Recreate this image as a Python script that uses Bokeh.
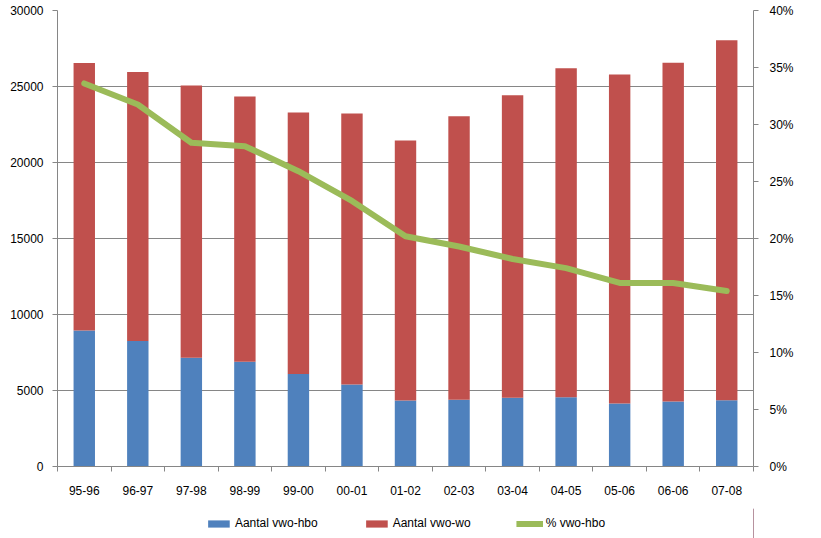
from bokeh.plotting import figure
from bokeh.layouts import column
from bokeh.models import (ColumnDataSource, Range1d, LinearAxis, FixedTicker, Grid,
                          SingleIntervalTicker, NumeralTickFormatter, Legend, LegendItem)
from bokeh.embed import file_html
from bokeh.resources import INLINE

categories = ["95-96", "96-97", "97-98", "98-99", "99-00", "00-01", "01-02",
              "02-03", "03-04", "04-05", "05-06", "06-06", "07-08"]
vwo_hbo = [8950, 8250, 7150, 6890, 6080, 5400, 4340, 4390, 4520, 4560, 4150, 4280, 4360]
vwo_wo = [17600, 17700, 17910, 17450, 17210, 17820, 17110, 18660, 19910, 21640, 21640, 22280, 23690]
pct_vwo_hbo = [0.336, 0.3175, 0.284, 0.281, 0.259, 0.233, 0.202, 0.193, 0.182, 0.174, 0.161, 0.161, 0.154]
series_names = ["Aantal vwo-hbo", "Aantal vwo-wo", "% vwo-hbo"]

FONT = "Liberation Sans"
GRID = "#868686"
BLUE = "#4F81BD"
RED = "#C0504D"
GREEN = "#9BBB59"

xs = list(range(len(categories)))
src = ColumnDataSource(dict(x=xs, hbo=vwo_hbo, wo=vwo_wo, pct=pct_vwo_hbo))

p = figure(width=821, height=500, output_backend="svg", toolbar_location=None,
           x_range=Range1d(-0.5, len(categories) - 0.5), y_range=Range1d(0, 30000),
           min_border_left=57, min_border_right=68, min_border_top=10, min_border_bottom=34,
           y_axis_location=None, x_axis_location=None)
p.outline_line_color = None
p.background_fill_color = "white"
p.border_fill_color = "white"
p.xgrid.grid_line_color = None
p.ygrid.grid_line_color = None

bars = p.vbar_stack(["hbo", "wo"], x="x", width=0.4, source=src, color=[BLUE, RED],
                    line_color=None)

p.extra_y_ranges = {"pct": Range1d(0, 0.4)}
line = p.line("x", "pct", source=src, y_range_name="pct", line_color=GREEN, line_width=6,
              line_join="round", line_cap="round")

ly = LinearAxis(ticker=SingleIntervalTicker(interval=5000),
                formatter=NumeralTickFormatter(format="0"))
ry = LinearAxis(y_range_name="pct", ticker=SingleIntervalTicker(interval=0.05),
                formatter=NumeralTickFormatter(format="0%"))
for ax in (ly, ry):
    ax.axis_line_color = GRID
    ax.major_tick_line_color = GRID
    ax.major_tick_out = 5
    ax.major_tick_in = 0
    ax.minor_tick_line_color = None
    ax.major_label_text_font = FONT
    ax.major_label_text_font_size = "12px"
    ax.major_label_text_color = "black"
ly.major_label_standoff = 9
ry.major_label_standoff = 11
p.add_layout(ly, "left")
p.add_layout(ry, "right")

xa = LinearAxis(ticker=FixedTicker(ticks=xs, minor_ticks=[i - 0.5 for i in range(len(categories) + 1)]),
                major_label_overrides={i: c for i, c in enumerate(categories)})
xa.axis_line_color = GRID
xa.major_tick_line_color = None
xa.major_tick_out = 0
xa.minor_tick_line_color = GRID
xa.minor_tick_out = 5
xa.minor_tick_in = 0
xa.major_label_standoff = 14
xa.major_label_text_font = FONT
xa.major_label_text_font_size = "12px"
xa.major_label_text_color = "black"
p.add_layout(xa, "below")

g = Grid(dimension=1, ticker=ly.ticker, grid_line_color=GRID, grid_line_width=1)
p.add_layout(g)

# legend strip below the chart (legend swatches only; sample glyphs lie outside the view)
lp = figure(width=821, height=38, output_backend="svg", toolbar_location=None,
            x_range=Range1d(0, 1), y_range=Range1d(0, 1),
            min_border_left=30, min_border_right=0, min_border_top=8, min_border_bottom=0,
            x_axis_location=None, y_axis_location=None)
lp.outline_line_color = None
lp.xgrid.grid_line_color = None
lp.ygrid.grid_line_color = None
lp.background_fill_color = "white"
lp.border_fill_color = "white"
swatch = ColumnDataSource(dict(x=[10, 11], top=[10, 10]))
r_hbo = lp.vbar(x="x", top="top", width=0.4, source=swatch, color=BLUE, line_color=None)
r_wo = lp.vbar(x="x", top="top", width=0.4, source=swatch, color=RED, line_color=None)
r_pct = lp.line(x="x", y="top", source=swatch, line_color=GREEN, line_width=6)

legend = Legend(items=[LegendItem(label=series_names[0], renderers=[r_hbo]),
                       LegendItem(label=series_names[1], renderers=[r_wo]),
                       LegendItem(label=series_names[2], renderers=[r_pct])],
                orientation="horizontal", location="center",
                glyph_width=27, glyph_height=9, label_standoff=3, spacing=45,
                label_text_font=FONT, label_text_font_size="12px", label_text_color="black",
                background_fill_alpha=0, border_line_color=None, padding=4, margin=0)
lp.add_layout(legend)

open("out.html", "w").write(file_html(column(p, lp, spacing=0), INLINE))
